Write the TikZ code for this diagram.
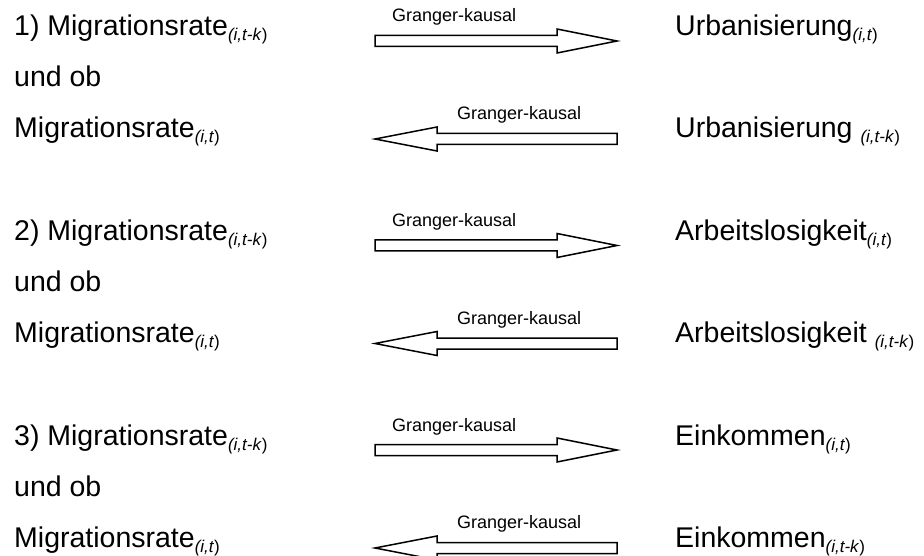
\documentclass[tikz,border=0pt]{standalone}
\usepackage{fontspec}
\setmainfont{Liberation Sans}

% subscript index such as (i,t) or (i,t-k)
\newcommand\idx[1]{\raisebox{-5pt}{\fontsize{17}{17}\selectfont\textit{(#1}\/)}}

\begin{document}
\begin{tikzpicture}[x=1pt,y=-1pt,
  varlabel/.style={anchor=base west,inner sep=0pt,font=\fontsize{28.5}{30}\selectfont},
  causelabel/.style={anchor=base west,inner sep=0pt,font=\fontsize{18}{20}\selectfont},
  blockline/.style={draw=black,line width=1.5pt,fill=white,line join=miter},
  rightblock/.pic={\path[blockline] (-121,-5.5) -- (61,-5.5) -- (61,-12) -- (121,0)
      -- (61,12) -- (61,5.5) -- (-121,5.5) -- cycle;},
  leftblock/.pic={\path[blockline] (121,-5.5) -- (-59,-5.5) -- (-59,-12) -- (-121,0)
      -- (-59,12) -- (-59,5.5) -- (121,5.5) -- cycle;}
]
\useasboundingbox (0,0) rectangle (924,556);
\fill[white] (0,0) rectangle (924,556);
\clip (0,0) rectangle (924,556);

% group 1: Urbanisierung
\node[varlabel] (a1) at (14,36) {1) Migrationsrate\idx{i,t-k}};
\node[varlabel] (a2) at (14,87) {und ob};
\node[varlabel] (a3) at (14,138) {Migrationsrate\idx{i,t}};
\node[varlabel] (b1) at (675,36) {Urbanisierung\idx{i,t}};
\node[varlabel] (b3) at (675,138) {Urbanisierung \idx{i,t-k}};
\coordinate (r1) at (496,41);
\coordinate (l1) at (496,139);
\pic at (r1) {rightblock};
\pic at (l1) {leftblock};
\node[causelabel] (g1) at (392,22) {Granger-kausal};
\node[causelabel] (h1) at (457,119.5) {Granger-kausal};

% group 2: Arbeitslosigkeit
\node[varlabel] (a4) at (14,240.5) {2) Migrationsrate\idx{i,t-k}};
\node[varlabel] (a5) at (14,291.5) {und ob};
\node[varlabel] (a6) at (14,342.5) {Migrationsrate\idx{i,t}};
\node[varlabel] (b4) at (675,240.5) {Arbeitslosigkeit\idx{i,t}};
\node[varlabel] (b6) at (675,342.5) {Arbeitslosigkeit \idx{i,t-k}};
\coordinate (r2) at (496,245.5);
\coordinate (l2) at (496,343.5);
\pic at (r2) {rightblock};
\pic at (l2) {leftblock};
\node[causelabel] (g2) at (392,226.5) {Granger-kausal};
\node[causelabel] (h2) at (457,324) {Granger-kausal};

% group 3: Einkommen
\node[varlabel] (a7) at (14,445) {3) Migrationsrate\idx{i,t-k}};
\node[varlabel] (a8) at (14,496) {und ob};
\node[varlabel] (a9) at (14,547) {Migrationsrate\idx{i,t}};
\node[varlabel] (b7) at (675,445) {Einkommen\idx{i,t}};
\node[varlabel] (b9) at (675,547) {Einkommen\idx{i,t-k}};
\coordinate (r3) at (496,450);
\coordinate (l3) at (496,548);
\pic at (r3) {rightblock};
\pic at (l3) {leftblock};
\node[causelabel] (g3) at (392,431) {Granger-kausal};
\node[causelabel] (h3) at (457,528.5) {Granger-kausal};
\end{tikzpicture}
\end{document}
